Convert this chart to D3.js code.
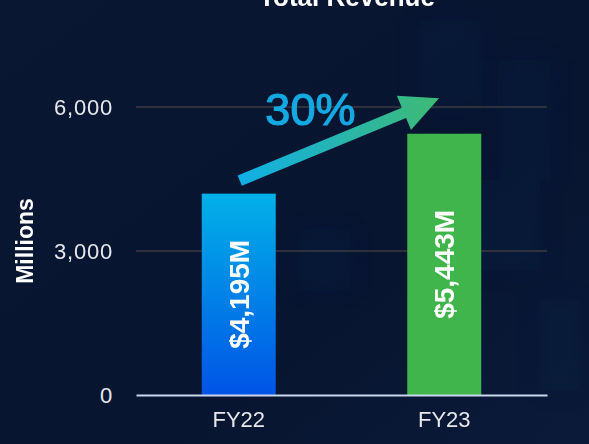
<!DOCTYPE html>
<html>
<head>
<meta charset="utf-8">
<script src="https://cdn.jsdelivr.net/npm/d3@7"></script>
<style>
  html, body { margin: 0; padding: 0; background: #09162f; }
  svg { display: block; font-family: "Liberation Sans", Arial, sans-serif; }
</style>
</head>
<body>
<svg id="chart" width="589" height="444"></svg>
<script>
const categories = ["FY22", "FY23"];
const revenue = [4195, 5443];
const yTicks = [0, 3000, 6000];
const title = "Total Revenue";
const yTitle = "Millions";
const growth = "30%";

const W = 589, H = 444;
const margin = { left: 136, right: 42, top: 0, bottom: 49 };

const svg = d3.select("#chart");
const defs = svg.append("defs");

// background
const bg = defs.append("linearGradient").attr("id", "bg")
  .attr("x1", 0).attr("y1", 0).attr("x2", 1).attr("y2", 1);
bg.append("stop").attr("offset", 0).attr("stop-color", "#0a1732");
bg.append("stop").attr("offset", 0.6).attr("stop-color", "#081530");
bg.append("stop").attr("offset", 1).attr("stop-color", "#0a1a38");
svg.append("rect").attr("width", W).attr("height", H).attr("fill", "url(#bg)");

// faint blurry patches, like the photo behind the chart
defs.append("filter").attr("id", "blur")
  .attr("x", "-50%").attr("y", "-50%").attr("width", "200%").attr("height", "200%")
  .append("feGaussianBlur").attr("stdDeviation", 12);
const patches = [[420, 20, 60, 90], [500, 60, 50, 120], [470, 180, 70, 90], [300, 230, 50, 60], [540, 300, 40, 90]];
svg.append("g").attr("filter", "url(#blur)")
  .selectAll("rect")
  .data(patches)
  .join("rect")
  .attr("x", d => d[0]).attr("y", d => d[1])
  .attr("width", d => d[2]).attr("height", d => d[3])
  .attr("fill", "#1d4378").attr("opacity", 0.09);

const x = d3.scaleBand()
  .domain(categories)
  .range([margin.left, W - margin.right])
  .paddingInner(0.64)
  .paddingOuter(0.32);

const y = d3.scaleLinear()
  .domain([0, 6000])
  .range([H - margin.bottom, 107]);

// gridlines
svg.append("g")
  .selectAll("line")
  .data(yTicks.filter(d => d > 0))
  .join("line")
  .attr("x1", margin.left).attr("x2", W - margin.right)
  .attr("y1", d => y(d)).attr("y2", d => y(d))
  .attr("stroke", "#3b3b40").attr("stroke-width", 1.5);

// y axis labels
const yAxis = svg.append("g")
  .attr("transform", `translate(${margin.left},0)`)
  .call(d3.axisLeft(y).tickValues(yTicks).tickFormat(d3.format(",")).tickSize(0).tickPadding(23));
yAxis.select(".domain").remove();
yAxis.selectAll("text")
  .attr("fill", "#e6e8ee")
  .style("font-size", "22px")
  .style("letter-spacing", "0.8px");

// bar gradient
const g1 = defs.append("linearGradient").attr("id", "blueBar")
  .attr("x1", 0).attr("y1", 0).attr("x2", 0).attr("y2", 1);
g1.append("stop").attr("offset", 0).attr("stop-color", "#02b1e8");
g1.append("stop").attr("offset", 1).attr("stop-color", "#0054e6");
const barFills = ["url(#blueBar)", "#3fb54b"];

svg.append("g")
  .selectAll("rect")
  .data(revenue)
  .join("rect")
  .attr("x", (d, i) => x(categories[i]))
  .attr("y", d => y(d))
  .attr("width", x.bandwidth())
  .attr("height", d => y(0) - y(d))
  .attr("fill", (d, i) => barFills[i]);

// x axis
const xAxis = svg.append("g")
  .attr("transform", `translate(0,${y(0)})`)
  .call(d3.axisBottom(x).tickSize(0).tickPadding(16));
xAxis.select(".domain").attr("stroke", "#c9d7ee").attr("stroke-width", 2);
xAxis.selectAll("text")
  .attr("fill", "#e6e8ee")
  .style("font-size", "22px");

// value labels inside bars
svg.append("g")
  .selectAll("text")
  .data(revenue)
  .join("text")
  .attr("transform", (d, i) => {
    const cx = x(categories[i]) + x.bandwidth() / 2;
    const cy = (y(d) + y(0)) / 2;
    return `translate(${cx + 10},${cy}) rotate(-90)`;
  })
  .attr("text-anchor", "middle")
  .attr("fill", "#ffffff")
  .style("font-size", "28px")
  .style("font-weight", "bold")
  .text(d => "$" + d3.format(",")(d) + "M");

// growth arrow
const x0 = x(categories[0]) + x.bandwidth() / 2 + 1;
const y0 = y(revenue[0]) - 13;
const x1 = x(categories[1]) + x.bandwidth() * 0.43;
const y1 = y(6180);
const dx = x1 - x0, dy = y1 - y0;
const len = Math.hypot(dx, dy);
const shaft = 5.5, head = 18.5, headLen = 38;

const ag = defs.append("linearGradient").attr("id", "arrowGrad")
  .attr("gradientUnits", "userSpaceOnUse")
  .attr("x1", x0).attr("y1", 0).attr("x2", x1).attr("y2", 0);
ag.append("stop").attr("offset", 0).attr("stop-color", "#0fb0e8");
ag.append("stop").attr("offset", 1).attr("stop-color", "#3fba74");

const r = Math.atan2(dy, dx);
const pts = [
  [0, -shaft], [len - headLen, -shaft], [len - headLen, -head], [len, 0],
  [len - headLen, head], [len - headLen, shaft], [0, shaft]
].map(([px, py]) => [x0 + px * Math.cos(r) - py * Math.sin(r), y0 + px * Math.sin(r) + py * Math.cos(r)]);
svg.append("path")
  .attr("d", d3.line()(pts) + "Z")
  .attr("fill", "url(#arrowGrad)");

svg.append("text")
  .attr("x", (x0 + x1) / 2 - 29)
  .attr("y", 125)
  .attr("text-anchor", "middle")
  .attr("fill", "#14a9e2")
  .attr("stroke", "#14a9e2")
  .attr("stroke-width", 1.2)
  .style("font-size", "45px")
  .text(growth);

// titles
svg.append("text")
  .attr("x", 347).attr("y", 6)
  .attr("text-anchor", "middle")
  .attr("fill", "#ffffff")
  .style("font-size", "26px")
  .style("font-weight", "bold")
  .text(title);

svg.append("text")
  .attr("transform", `translate(33,241) rotate(-90)`)
  .attr("text-anchor", "middle")
  .attr("fill", "#ffffff")
  .style("font-size", "23px")
  .style("font-weight", "bold")
  .text(yTitle);
</script>
</body>
</html>
